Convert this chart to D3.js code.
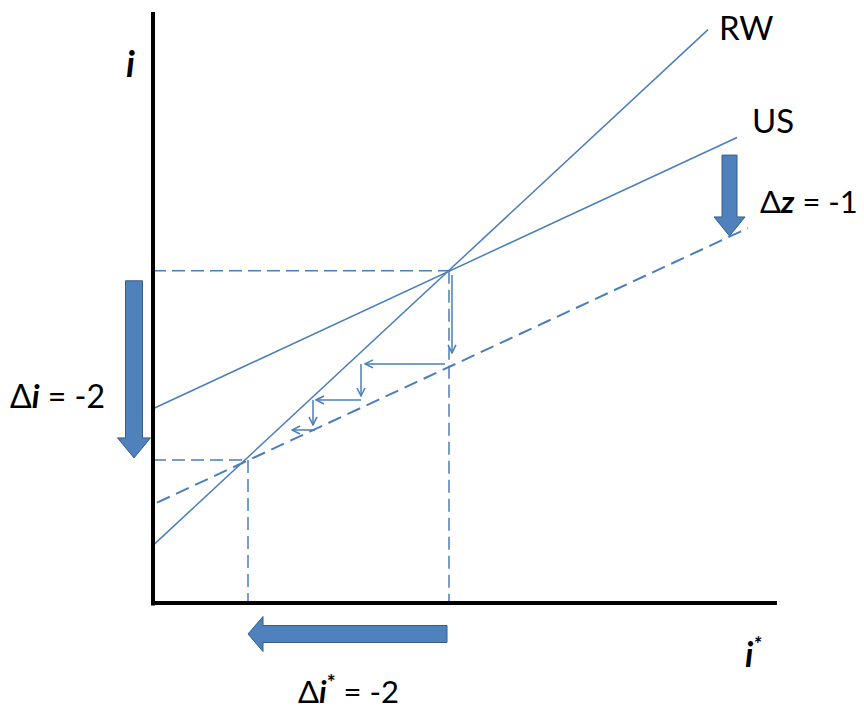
<!DOCTYPE html>
<html>
<head>
<meta charset="utf-8">
<script src="https://cdn.jsdelivr.net/npm/d3@7"></script>
<style>
  body { margin: 0; background: #fff; }
  text { font-family: Lato, "Open Sans", sans-serif; fill: #000; }
</style>
</head>
<body>
<svg class="diagram" width="864" height="712"></svg>
<script>
(function () {

    'use strict';

    // curve end points in (i*, i) units
    var rwLine = [[0, 0.62], [5.55, 6.17]];
    var usLine = [[0, 2.09], [5.84, 5.01]];
    var usShiftLine = [[0.04, 1.08], [5.95, 4.035]];
    var equilibria = [[2.96, 3.575], [0.95, 1.54]];
    // adjustment steps [x1, y1, x2, y2]
    var steps = [
        [2.99, 3.531, 2.99, 2.691],
        [2.92, 2.573, 2.12, 2.573],
        [2.08, 2.573, 2.08, 2.228],
        [2.08, 2.185, 1.63, 2.185],
        [1.60, 2.185, 1.60, 1.916],
        [1.62, 1.862, 1.39, 1.862]
    ];
    var shiftZ = [5.765, 4.82, 3.95];

    var svg = d3.select("svg.diagram");
    var blue = "#4a7ebb";

    var x = d3.scaleLinear().domain([0, 6.25]).range([153, 778]);
    var y = d3.scaleLinear().domain([0, 6.36]).range([603, 12]);
    var line = d3.line().x(function (d) { return x(d[0]); }).y(function (d) { return y(d[1]); });

    var defs = svg.append("defs");
    defs.append("marker")
        .attr("id", "head")
        .attr("viewBox", "0 0 10 10")
        .attr("refX", 9).attr("refY", 5)
        .attr("markerWidth", 10).attr("markerHeight", 10)
        .attr("markerUnits", "userSpaceOnUse")
        .attr("orient", "auto")
        .append("path")
        .attr("d", "M1,1 L9,5 L1,9")
        .attr("fill", "none")
        .attr("stroke", blue)
        .attr("stroke-width", 1.5);

    // dashed guides
    var guides = svg.append("g").attr("stroke", blue).attr("stroke-width", 1.5)
        .attr("stroke-dasharray", "13,6").attr("fill", "none");
    equilibria.forEach(function (e) {
        guides.append("path").attr("d", line([[0, e[1]], e]));
        guides.append("path").attr("d", line([e, [e[0], 0]]));
    });

    svg.append("path").attr("d", line(usShiftLine))
        .attr("stroke", blue).attr("stroke-width", 2).attr("stroke-dasharray", "14,7").attr("fill", "none");

    svg.selectAll("path.curve")
        .data([rwLine, usLine])
        .enter().append("path")
        .attr("class", "curve")
        .attr("d", line)
        .attr("stroke", blue).attr("stroke-width", 1.5).attr("fill", "none");

    svg.append("g").selectAll("path")
        .data(steps)
        .enter().append("path")
        .attr("d", function (d) { return line([[d[0], d[1]], [d[2], d[3]]]); })
        .attr("stroke", blue).attr("stroke-width", 1.5).attr("fill", "none")
        .attr("marker-end", "url(#head)");

    // axes without ticks
    var axes = svg.append("g");
    axes.append("g").attr("transform", "translate(" + x(0) + ",0)")
        .call(d3.axisLeft(y).ticks(0).tickSizeOuter(0));
    axes.append("g").attr("transform", "translate(0," + y(0) + ")")
        .call(d3.axisBottom(x).ticks(0).tickSizeOuter(0));
    axes.selectAll(".domain").attr("stroke", "#000").attr("stroke-width", 4);
    axes.select("g").select(".domain").attr("d", "M0,12V605.5");
    axes.selectAll("g").filter(function (d, i) { return i === 1; }).select(".domain").attr("d", "M151,0H777");

    // fat arrows
    function fatArrow(x1, y1, x2, y2, shaft, head, headLen) {
        var len = Math.hypot(x2 - x1, y2 - y1);
        var ang = Math.atan2(y2 - y1, x2 - x1) * 180 / Math.PI;
        var s = shaft / 2, h = head / 2, b = len - headLen;
        var p = [[0, -s], [b, -s], [b, -h], [len, 0], [b, h], [b, s], [0, s]];
        svg.append("path")
            .attr("d", "M" + p.join("L") + "Z")
            .attr("transform", "translate(" + x1 + "," + y1 + ") rotate(" + ang + ")")
            .attr("fill", "#4f81bd").attr("stroke", "#385d8a").attr("stroke-width", 1);
    }
    fatArrow(x(0) - 19, y(equilibria[0][1]) + 10, x(0) - 19, y(equilibria[1][1]) - 2, 17, 33, 20);
    fatArrow(x(equilibria[0][0]) - 2, y(0) + 31, x(equilibria[1][0]), y(0) + 31, 17, 35, 15);
    fatArrow(x(shiftZ[0]), y(shiftZ[1]), x(shiftZ[0]), y(shiftZ[2]), 15, 31, 19);

    // labels
    svg.append("text").attr("x", 126).attr("y", 77)
        .attr("font-size", 36).attr("font-weight", "bold").attr("font-style", "italic").text("i");
    svg.append("text").attr("x", 719).attr("y", 40).attr("font-size", 33).text("RW");
    svg.append("text").attr("x", 752).attr("y", 133).attr("font-size", 33).text("US");

    var tz = svg.append("text").attr("x", 760).attr("y", 213).attr("font-size", 31);
    tz.append("tspan").text("Δ");
    tz.append("tspan").attr("font-weight", "bold").attr("font-style", "italic").text("z");
    tz.append("tspan").text(" = -1");

    var ti = svg.append("text").attr("x", 10).attr("y", 408).attr("font-size", 32);
    ti.append("tspan").text("Δ");
    ti.append("tspan").attr("font-weight", "bold").attr("font-style", "italic").text("i");
    ti.append("tspan").text(" = -2");

    var ts = svg.append("text").attr("x", 298).attr("y", 703).attr("font-size", 31);
    ts.append("tspan").text("Δ");
    ts.append("tspan").attr("font-weight", "bold").attr("font-style", "italic").text("i");
    ts.append("tspan").attr("font-size", 21).attr("font-weight", "bold").attr("dy", -13).text("*");
    ts.append("tspan").attr("dy", 13).text(" = -2");

    var tx = svg.append("text").attr("x", 745).attr("y", 667).attr("font-size", 34)
        .attr("font-weight", "bold").attr("font-style", "italic");
    tx.append("tspan").text("i");
    tx.append("tspan").attr("font-size", 21).attr("dy", -15).text("*");
})();
</script>
</body>
</html>
